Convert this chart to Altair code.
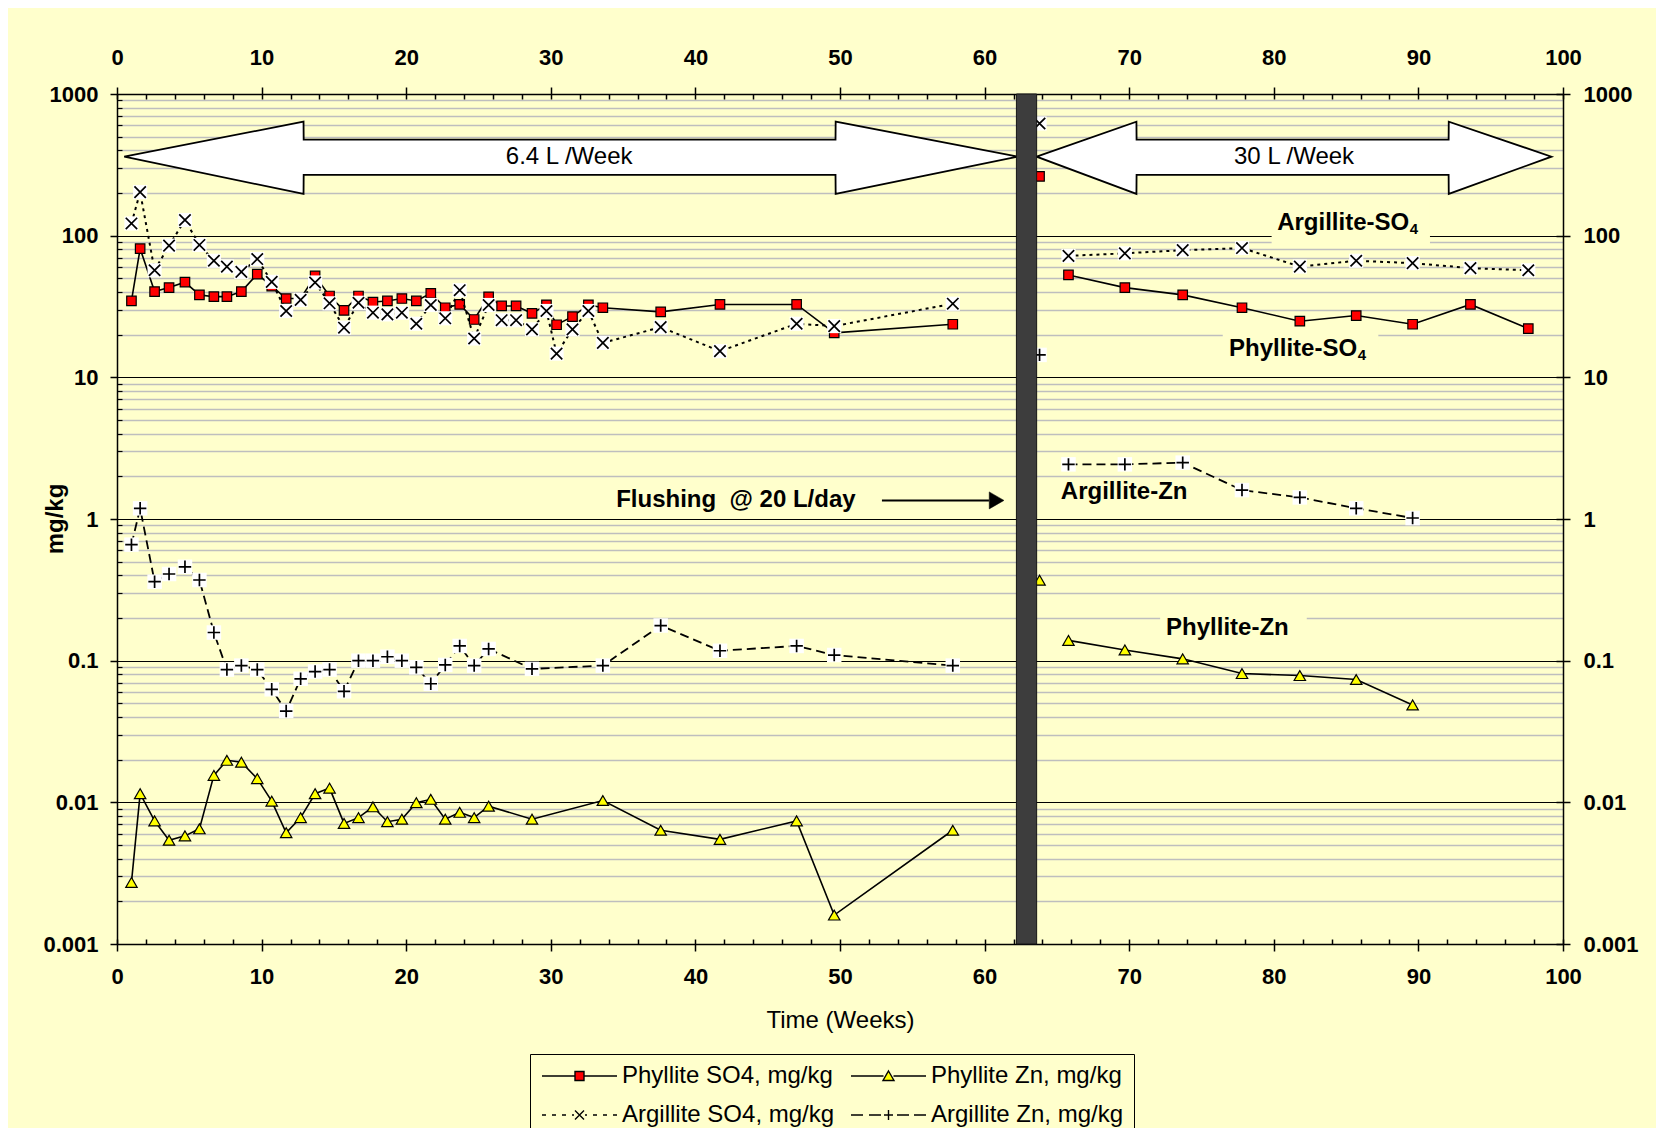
import altair as alt
import pandas as pd

FONT = "Liberation Sans"
BG = "#FFFFCC"

# ---------------- data ----------------
WEEKS_SO4 = [1.0, 1.6, 2.6, 3.6, 4.7, 5.7, 6.7, 7.6, 8.6, 9.7, 10.7, 11.7, 12.7, 13.7,
             14.7, 15.7, 16.7, 17.7, 18.7, 19.7, 20.7, 21.7, 22.7, 23.7, 24.7, 25.7,
             26.6, 27.6, 28.7, 29.7, 30.4, 31.5, 32.6, 33.6, 37.6, 41.7, 47.0, 49.6, 57.8]
PHYLLITE_SO4 = [34.6, 81, 40.3, 43, 47, 38.2, 37.1, 37.1, 40.3, 53.5, 44, 36, 36, 52,
                37.5, 29.7, 37.5, 34, 34.6, 36, 34.6, 39.2, 31, 32.7, 25.6, 37,
                31.9, 31.9, 28.3, 32.5, 23.5, 26.8, 32.5, 31, 29, 32.7, 32.7, 20.6, 23.7]
ARGILLITE_SO4 = [122, 203, 57, 85, 129, 86, 66.5, 60.5, 55.5, 68.4, 47.2, 29.4, 35.2, 46.7,
                 33.3, 22.4, 33.6, 28.6, 27.8, 28.6, 23.9, 32.4, 26.1, 41.2, 18.8, 32.4,
                 25.3, 25.3, 21.8, 29.4, 14.7, 21.8, 29.4, 17.5, 22.6, 15.3, 23.9, 23.0, 33.1]

WEEKS_ZN = [1.0, 1.6, 2.6, 3.6, 4.7, 5.7, 6.7, 7.6, 8.6, 9.7, 10.7, 11.7, 12.7, 13.7,
            14.7, 15.7, 16.7, 17.7, 18.7, 19.7, 20.7, 21.7, 22.7, 23.7, 24.7, 25.7,
            28.7, 33.6, 37.6, 41.7, 47.0, 49.6, 57.8]
PHYLLITE_ZN = [0.00272, 0.0115, 0.0074, 0.0054, 0.0058, 0.0065, 0.0155, 0.0198, 0.0192,
               0.0147, 0.0102, 0.0061, 0.0078, 0.0115, 0.0126, 0.0071, 0.0078, 0.0093,
               0.0073, 0.0076, 0.00995, 0.0105, 0.0076, 0.0085, 0.0078, 0.0094,
               0.0076, 0.0103, 0.00635, 0.00548, 0.0074, 0.0016, 0.00635]
ARGILLITE_ZN = [0.659, 1.19, 0.361, 0.409, 0.46, 0.371, 0.158, 0.0865, 0.0923, 0.0865,
                0.0628, 0.0441, 0.0745, 0.0838, 0.0865, 0.0608, 0.100, 0.100, 0.1066,
                0.100, 0.0898, 0.0687, 0.0933, 0.127, 0.0923, 0.121,
                0.0875, 0.0923, 0.177, 0.1175, 0.127, 0.1096, 0.0923]

WEEK_RESTART = [63.8]
PHYLLITE_SO4_RESTART = [262]
ARGILLITE_SO4_RESTART = [619]
PHYLLITE_ZN_RESTART = [0.37]
ARGILLITE_ZN_RESTART = [14.4]

WEEKS_SO4_LATE = [65.8, 69.7, 73.7, 77.8, 81.8, 85.7, 89.6, 93.6, 97.6]
PHYLLITE_SO4_LATE = [52.8, 43, 38.2, 31, 24.9, 27.3, 23.7, 32.7, 22.1]
ARGILLITE_SO4_LATE = [72, 75, 79, 81.8, 60.5, 66.5, 64, 59, 57]
WEEKS_ZN_LATE = [65.8, 69.7, 73.7, 77.8, 81.8, 85.7, 89.6]
PHYLLITE_ZN_LATE = [0.139, 0.119, 0.103, 0.0811, 0.0785, 0.0736, 0.0487]
ARGILLITE_ZN_LATE = [2.43, 2.43, 2.5, 1.6, 1.42, 1.19, 1.016]

SERIES = ["Phyllite SO4, mg/kg", "Phyllite Zn, mg/kg",
          "Argillite SO4, mg/kg", "Argillite Zn, mg/kg"]

# annotations
BAR_WEEK_START = [62.2]
BAR_WEEK_END = [63.6]
BAR_TOP = [1000]
BAR_BOTTOM = [0.001]

ARROW_ID = ["6.4"] * 6 + ["30"] * 6
ARROW_WEEKS = [0.5, 12.9, 12.91, 49.69, 49.7, 62.3,
               63.6, 70.5, 70.51, 92.09, 92.1, 99.2]
ARROW_TOP = [361, 638, 476, 476, 638, 361] * 2
ARROW_BOTTOM = [361, 197, 269, 269, 197, 361] * 2

ARROW_TEXT = ["6.4 L /Week", "30 L /Week"]
ARROW_TEXT_WEEK = [31.27, 81.4]
ARROW_TEXT_VALUE = [361, 361]

LABEL_TEXT = ["Argillite-SO", "Phyllite-SO"]
LABEL_WEEK = [89.36, 85.76]
LABEL_VALUE = [122.5, 15.95]
SUB_TEXT = ["4", "4"]
SUB_WEEK = [89.4, 85.8]
SUB_VALUE = [112, 14.3]

ZN_LABEL_TEXT = ["Argillite-Zn", "Phyllite-Zn", "Flushing\u00a0\u00a0@ 20 L/day"]
ZN_LABEL_WEEK = [65.27, 72.55, 34.52]
ZN_LABEL_VALUE = [1.549, 0.171, 1.353]

BOX_WEEK_START = [79.85, 76.47, 72.14]
BOX_WEEK_END = [90.8, 87.23, 82.28]
BOX_TOP = [183, 25.2, 0.2456]
BOX_BOTTOM = [85.3, 10.8, 0.118]

FLUSH_SHAFT_WEEKS = [52.9, 60.3]
FLUSH_SHAFT_VALUE = [1.353, 1.353]
FLUSH_HEAD_WEEK = [60.83]
FLUSH_HEAD_VALUE = [1.353]

X_TICKS = list(range(0, 101, 10))
X_MINOR = list(range(0, 101, 2))
DECADES = [0.001, 0.01, 0.1, 1, 10, 100, 1000]
MINORS = [m * 10.0 ** e for e in range(-3, 3) for m in range(2, 10)]

# ---------------- scales ----------------
X_SCALE = alt.Scale(domain=[0, 100], nice=False, zero=False)
Y_SCALE = alt.Scale(type="log", domain=[0.001, 1000], nice=False)


def frame(name, parts):
    rows = []
    for seg, (weeks, values) in enumerate(parts):
        for w, v in zip(weeks, values):
            rows.append({"series": name, "seg": seg, "week": w, "value": v})
    return pd.DataFrame(rows)


df_pso4 = frame(SERIES[0], [(WEEKS_SO4, PHYLLITE_SO4), (WEEK_RESTART, PHYLLITE_SO4_RESTART),
                            (WEEKS_SO4_LATE, PHYLLITE_SO4_LATE)])
df_pzn = frame(SERIES[1], [(WEEKS_ZN, PHYLLITE_ZN), (WEEK_RESTART, PHYLLITE_ZN_RESTART),
                           (WEEKS_ZN_LATE, PHYLLITE_ZN_LATE)])
df_aso4 = frame(SERIES[2], [(WEEKS_SO4, ARGILLITE_SO4), (WEEK_RESTART, ARGILLITE_SO4_RESTART),
                            (WEEKS_SO4_LATE, ARGILLITE_SO4_LATE)])
df_azn = frame(SERIES[3], [(WEEKS_ZN, ARGILLITE_ZN), (WEEK_RESTART, ARGILLITE_ZN_RESTART),
                           (WEEKS_ZN_LATE, ARGILLITE_ZN_LATE)])

X = alt.X("week:Q", scale=X_SCALE, axis=None)
Y = alt.Y("value:Q", scale=Y_SCALE, axis=None)

dummy = pd.DataFrame({"week": [50.0], "value": [1.0]})


def axis_layer(xaxis, yaxis):
    return alt.Chart(dummy).mark_point(opacity=0).encode(
        x=alt.X("week:Q", scale=X_SCALE, axis=xaxis),
        y=alt.Y("value:Q", scale=Y_SCALE, axis=yaxis),
    )


lab = dict(labelFont=FONT, labelFontWeight="bold", labelFontSize=22, labelColor="black",
           labelFlush=False, labelOverlap=False)
tick = dict(tickColor="black", tickWidth=1.5)

x_bottom_main = alt.Axis(orient="bottom", values=X_TICKS, tickSize=7, domainColor="black",
                         domainWidth=1.5, grid=False, labelPadding=15,
                         title="Time (Weeks)", titleFont=FONT, titleFontWeight="normal",
                         titleFontSize=24, titleColor="black", titlePadding=21, **lab, **tick)
x_bottom_in = alt.Axis(orient="bottom", offset=-5, values=X_MINOR, tickSize=5, domain=False,
                       labels=False, grid=False, title=None, **tick)
x_top_main = alt.Axis(orient="top", values=X_TICKS, tickSize=7, domainColor="black",
                      domainWidth=1.5, grid=False, labelPadding=18, title=None, **lab, **tick)
x_top_in = alt.Axis(orient="top", offset=-5, values=X_MINOR, tickSize=5, domain=False,
                    labels=False, grid=False, title=None, **tick)

y_left_main = alt.Axis(orient="left", values=DECADES, format="~g", tickSize=7,
                       domainColor="black", domainWidth=1.5, grid=False, labelPadding=12,
                       title="mg/kg", titleFont=FONT, titleFontWeight="bold", titleFontSize=24,
                       titleColor="black", titleX=-62, titleY=424.5, titleAngle=270,
                       titleAlign="center", titleBaseline="middle", **lab, **tick)
y_left_in = alt.Axis(orient="left", offset=-5, values=MINORS, tickSize=5, domain=False,
                     labels=False, grid=False, title=None, tickColor="black", tickWidth=1.2)
y_right_main = alt.Axis(orient="right", values=DECADES, format="~g", tickSize=7,
                        domainColor="black", domainWidth=1.5, grid=False, labelPadding=13,
                        title=None, **lab, **tick)
y_right_in = alt.Axis(orient="right", offset=-7, values=DECADES, tickSize=7, domain=False,
                      labels=False, grid=False, title=None, **tick)
y_grid_minor = alt.Axis(orient="left", values=MINORS, grid=True, gridColor="#BEBEBE",
                        gridWidth=1.3, ticks=False, labels=False, domain=False, title=None)
y_grid_major = alt.Axis(orient="left", values=DECADES, grid=True, gridColor="black",
                        gridWidth=1.1, ticks=False, labels=False, domain=False, title=None)

axes = [
    axis_layer(None, y_grid_minor),
    axis_layer(None, y_grid_major),
    axis_layer(x_bottom_main, y_left_main),
    axis_layer(x_bottom_in, y_left_in),
    axis_layer(x_top_main, y_right_main),
    axis_layer(x_top_in, y_right_in),
]

# label boxes hiding gridlines
boxes = alt.Chart(pd.DataFrame({"w0": BOX_WEEK_START, "w1": BOX_WEEK_END,
                                "v0": BOX_TOP, "v1": BOX_BOTTOM})).mark_rect(
    fill=BG, opacity=1).encode(
    x=alt.X("w0:Q", scale=X_SCALE, axis=None), x2="w1:Q",
    y=alt.Y("v0:Q", scale=Y_SCALE, axis=None), y2="v1:Q")

# block arrows (areas sorted by week)
arrow_df = pd.DataFrame({"arrow": ARROW_ID, "week": ARROW_WEEKS,
                         "top": ARROW_TOP, "bottom": ARROW_BOTTOM})
arrows = alt.Chart(arrow_df).mark_area(fill="white", stroke="black", strokeWidth=1.8,
                                       opacity=1, interpolate="linear").encode(
    x=alt.X("week:Q", scale=X_SCALE, axis=None),
    y=alt.Y("top:Q", scale=Y_SCALE, axis=None, stack=None),
    y2="bottom:Q",
    detail="arrow:N",
)
arrow_text = alt.Chart(pd.DataFrame({"t": ARROW_TEXT, "week": ARROW_TEXT_WEEK,
                                     "value": ARROW_TEXT_VALUE})).mark_text(
    font=FONT, fontSize=24, color="black", align="center", baseline="middle").encode(
    x=X, y=Y, text="t:N")

X_PATH = "M-1,-1L1,1M-1,1L1,-1"
PLUS_PATH = "M-1,0H1M0,-1V1"

series_layers = [
    alt.Chart(df_pso4).mark_line(color="black", strokeWidth=1.6).encode(x=X, y=Y, detail="seg:N"),
    alt.Chart(df_pso4).mark_point(shape="square", size=90, filled=True, fill="#FF0000",
                                  stroke="black", strokeWidth=1.2, opacity=1).encode(x=X, y=Y),
    alt.Chart(df_pzn).mark_line(color="black", strokeWidth=1.6).encode(x=X, y=Y, detail="seg:N"),
    alt.Chart(df_pzn).mark_point(shape="triangle-up", size=130, filled=True, fill="#FFFF00",
                                 stroke="black", strokeWidth=1.2, opacity=1).encode(x=X, y=Y),
    alt.Chart(df_aso4).mark_line(color="black", strokeWidth=2, strokeDash=[3, 4]).encode(
        x=X, y=Y, detail="seg:N"),
    alt.Chart(df_aso4).mark_point(shape="square", size=200, filled=True, fill="white",
                                  strokeWidth=0, opacity=1).encode(x=X, y=Y),
    alt.Chart(df_aso4).mark_point(shape=X_PATH, size=130, filled=False, stroke="black",
                                  strokeWidth=1.7, opacity=1).encode(x=X, y=Y),
    alt.Chart(df_azn).mark_line(color="black", strokeWidth=1.8, strokeDash=[9, 5]).encode(
        x=X, y=Y, detail="seg:N"),
    alt.Chart(df_azn).mark_point(shape="square", size=210, filled=True, fill="white",
                                 strokeWidth=0, opacity=1).encode(x=X, y=Y),
    alt.Chart(df_azn).mark_point(shape=PLUS_PATH, size=155, filled=False, stroke="black",
                                 strokeWidth=1.7, opacity=1).encode(x=X, y=Y),
]

bar = alt.Chart(pd.DataFrame({"w0": BAR_WEEK_START, "w1": BAR_WEEK_END,
                              "v0": BAR_TOP, "v1": BAR_BOTTOM})).mark_rect(
    fill="#3d3d3d", stroke="#151515", strokeWidth=1, opacity=1).encode(
    x=alt.X("w0:Q", scale=X_SCALE, axis=None), x2="w1:Q",
    y=alt.Y("v0:Q", scale=Y_SCALE, axis=None), y2="v1:Q")

so4_labels = alt.Chart(pd.DataFrame({"t": LABEL_TEXT, "week": LABEL_WEEK,
                                     "value": LABEL_VALUE})).mark_text(
    font=FONT, fontSize=24, fontWeight="bold", color="black", align="right",
    baseline="middle").encode(x=X, y=Y, text="t:N")
so4_subs = alt.Chart(pd.DataFrame({"t": SUB_TEXT, "week": SUB_WEEK,
                                   "value": SUB_VALUE})).mark_text(
    font=FONT, fontSize=15, fontWeight="bold", color="black", align="left",
    baseline="middle").encode(x=X, y=Y, text="t:N")
zn_labels = alt.Chart(pd.DataFrame({"t": ZN_LABEL_TEXT, "week": ZN_LABEL_WEEK,
                                    "value": ZN_LABEL_VALUE})).mark_text(
    font=FONT, fontSize=24, fontWeight="bold", color="black", align="left",
    baseline="middle").encode(x=X, y=Y, text="t:N")

flush_shaft = alt.Chart(pd.DataFrame({"week": FLUSH_SHAFT_WEEKS,
                                      "value": FLUSH_SHAFT_VALUE})).mark_line(
    color="black", strokeWidth=2).encode(x=X, y=Y)
flush_head = alt.Chart(pd.DataFrame({"week": FLUSH_HEAD_WEEK,
                                     "value": FLUSH_HEAD_VALUE})).mark_point(
    shape="triangle-right", size=289, filled=True, fill="black", stroke="black",
    strokeWidth=0.5, opacity=1).encode(x=X, y=Y)

# legend (symbols are line + marker paths); its own points sit outside the plot and are clipped
LEGEND_PATHS = [
    "M-1,0H2.3M3.2,0H6.5M2.3,-0.45H3.2V0.45H2.3Z",
    "M-1,0H2.25M3.25,0H6.5M2.75,-0.5L3.3,0.45H2.2Z",
    "M-1,0H-0.6M0,0H0.4M1,0H1.4M2,0H2.2M3.3,0H3.5M4.1,0H4.5M5.1,0H5.5M6.1,0H6.5"
    "M2.3,-0.45L3.2,0.45M2.3,0.45L3.2,-0.45",
    "M-1,0H0.2M0.8,0H2.0M2.3,0H3.2M2.75,-0.5V0.5M3.6,0H4.8M5.3,0H6.5",
]
LEGEND_FILLS = ["#FF0000", "#FFFF00", "white", "white"]
LEGEND_STROKES = ["black", "black", "black", "black"]
legend_df = pd.DataFrame({"series": SERIES, "week": [-50.0] * 4, "value": [1.0] * 4})
LEG = alt.Legend(title=None, orient="none", legendX=413, legendY=960,
                 direction="horizontal", columns=2, labelFont=FONT, labelFontSize=24,
                 labelColor="black", labelOffset=58, labelLimit=400, symbolSize=400,
                 symbolStrokeWidth=1.4, symbolOpacity=1,
                 strokeColor="black", fillColor=BG, padding=10, rowPadding=15,
                 columnPadding=13)
legend_layer = alt.Chart(legend_df).mark_point(clip=True, strokeWidth=1.4, opacity=1).encode(
    x=X, y=Y,
    shape=alt.Shape("series:N", scale=alt.Scale(domain=SERIES, range=LEGEND_PATHS), legend=LEG),
    fill=alt.Fill("series:N", scale=alt.Scale(domain=SERIES, range=LEGEND_FILLS), legend=LEG),
    stroke=alt.Stroke("series:N", scale=alt.Scale(domain=SERIES, range=LEGEND_STROKES),
                      legend=LEG),
)

layers = axes + [boxes, arrows, arrow_text] + series_layers + [
    bar, so4_labels, so4_subs, zn_labels, flush_shaft, flush_head, legend_layer]

chart = alt.layer(*layers).resolve_axis(x="independent", y="independent").properties(
    width=1446, height=850,
    padding={"left": 109, "top": 86, "right": 93, "bottom": 184},
    autosize=alt.AutoSizeParams(type="none"),
    background=BG,
).configure_view(stroke="transparent", fill=BG)

chart.save("out.html", embed_options={"renderer": "svg", "actions": False})
